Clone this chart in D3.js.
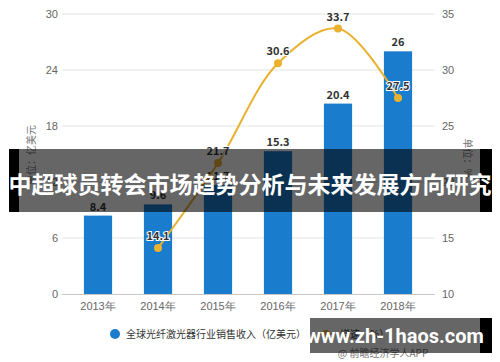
<!DOCTYPE html>
<html>
<head>
<meta charset="utf-8">
<script src="https://cdn.jsdelivr.net/npm/d3@7"></script>
<style>
  body { margin: 0; background: #fff; }
  svg { display: block; font-family: "Noto Sans CJK SC", "Noto Sans", sans-serif; }
</style>
</head>
<body>
<svg width="500" height="362"></svg>
<script>
const years = ["2013年", "2014年", "2015年", "2016年", "2017年", "2018年"];
const revenue = [8.4, 9.6, 11.7, 15.3, 20.4, 26];
const growthYears = ["2014年", "2015年", "2016年", "2017年", "2018年"];
const growth = [14.1, 21.7, 30.6, 33.7, 27.5];
const leftTicks = [0, 6, 12, 18, 24, 30];
const rightTicks = [10, 15, 20, 25, 30, 35];

const svg = d3.select("svg");
const barColor = "#1a7ccc";
const lineColor = "#eab12f";

const x = d3.scaleBand().domain(years).range([68, 428]).paddingInner(0.53).paddingOuter(0.265);
const yL = d3.scaleLinear().domain([0, 30]).range([294, 14]);
const yR = d3.scaleLinear().domain([10, 35]).range([294, 14]);

// gridlines
svg.append("g")
  .selectAll("line")
  .data(leftTicks.slice(1))
  .join("line")
  .attr("x1", 62).attr("x2", 435)
  .attr("y1", d => yL(d)).attr("y2", d => yL(d))
  .attr("stroke", "#e3e3e3");

// x axis
const xAxis = svg.append("g")
  .attr("transform", `translate(0,${yL(0)})`)
  .call(d3.axisBottom(x).tickSize(0).tickPadding(8));
xAxis.select(".domain").attr("stroke", "#c8c8c8").attr("d", "M62,0.5H435");
xAxis.selectAll("text").attr("fill", "#666").attr("font-size", 11);

// left axis
const left = svg.append("g")
  .attr("transform", "translate(58,0)")
  .call(d3.axisLeft(yL).tickValues(leftTicks).tickSize(0).tickPadding(0));
left.select(".domain").remove();
left.selectAll("text").attr("fill", "#666").attr("font-size", 11);

// right axis
const right = svg.append("g")
  .attr("transform", "translate(442,0)")
  .call(d3.axisRight(yR).tickValues(rightTicks).tickSize(0).tickPadding(0));
right.select(".domain").remove();
right.selectAll("text").attr("fill", "#666").attr("font-size", 11);

// axis titles
svg.append("text")
  .attr("transform", "translate(35,155) rotate(-90)")
  .attr("text-anchor", "middle")
  .attr("fill", "#777").attr("font-size", 10)
  .text("单位：亿美元");
svg.append("text")
  .attr("transform", "translate(464,158) rotate(90)")
  .attr("text-anchor", "middle")
  .attr("fill", "#777").attr("font-size", 10)
  .text("单位：%");

// bars
svg.append("g")
  .selectAll("rect")
  .data(revenue)
  .join("rect")
  .attr("x", (d, i) => x(years[i]))
  .attr("y", d => yL(d))
  .attr("width", x.bandwidth())
  .attr("height", d => yL(0) - yL(d))
  .attr("fill", barColor);

svg.append("g")
  .selectAll("text")
  .data(revenue)
  .join("text")
  .attr("x", (d, i) => x(years[i]) + x.bandwidth() / 2)
  .attr("y", d => yL(d) - 5)
  .attr("text-anchor", "middle")
  .attr("font-size", 11).attr("font-weight", "bold")
  .attr("fill", "#333")
  .attr("stroke", "#fff").attr("stroke-width", 2).attr("paint-order", "stroke")
  .text(d => d);

// growth line
const cx = (i) => x(growthYears[i]) + x.bandwidth() / 2;
const line = d3.line()
  .x((d, i) => cx(i))
  .y(d => yR(d))
  .curve(d3.curveCatmullRom.alpha(0.5));

svg.append("path")
  .datum(growth)
  .attr("d", line)
  .attr("fill", "none")
  .attr("stroke", lineColor)
  .attr("stroke-width", 2);

svg.append("g")
  .selectAll("circle")
  .data(growth)
  .join("circle")
  .attr("cx", (d, i) => cx(i))
  .attr("cy", d => yR(d))
  .attr("r", 4)
  .attr("fill", lineColor);

svg.append("g")
  .selectAll("text")
  .data(growth)
  .join("text")
  .attr("x", (d, i) => cx(i))
  .attr("y", d => yR(d) - 8)
  .attr("text-anchor", "middle")
  .attr("font-size", 11).attr("font-weight", "bold")
  .attr("fill", "#333")
  .attr("stroke", "#fff").attr("stroke-width", 2).attr("paint-order", "stroke")
  .text(d => d);

// legend
const legend = svg.append("g");
legend.append("circle").attr("cx", 115).attr("cy", 334).attr("r", 5).attr("fill", barColor);
legend.append("text").attr("x", 126).attr("y", 338)
  .attr("font-size", 10).attr("fill", "#333")
  .text("全球光纤激光器行业销售收入（亿美元）");
legend.append("line").attr("x1", 318).attr("x2", 334).attr("y1", 334).attr("y2", 334)
  .attr("stroke", lineColor).attr("stroke-width", 2);
legend.append("circle").attr("cx", 326).attr("cy", 334).attr("r", 4).attr("fill", lineColor);
legend.append("text").attr("x", 340).attr("y", 338)
  .attr("font-size", 10).attr("fill", "#333")
  .text("增速（%）");

svg.append("text")
  .attr("x", 383).attr("y", 357)
  .attr("text-anchor", "middle")
  .attr("font-size", 10).attr("fill", "#777")
  .text("@ 前瞻经济学人APP");

// title overlay banner
const banner = svg.append("g");
banner.append("rect").attr("x", 9).attr("y", 149).attr("width", 483).attr("height", 63)
  .attr("fill", "rgba(0,0,0,0.6)");
banner.append("rect").attr("x", 9).attr("y", 149).attr("width", 10).attr("height", 63).attr("fill", "#000");
banner.append("rect").attr("x", 480).attr("y", 149).attr("width", 12).attr("height", 63).attr("fill", "#000");
banner.append("text")
  .attr("x", 250).attr("y", 193)
  .attr("text-anchor", "middle")
  .attr("font-size", 23).attr("font-weight", "bold")
  .attr("fill", "#fff")
  .text("中超球员转会市场趋势分析与未来发展方向研究");

// url overlay
const url = svg.append("g");
url.append("rect").attr("x", 310).attr("y", 318).attr("width", 182).attr("height", 35)
  .attr("fill", "rgba(0,0,0,0.6)");
url.append("rect").attr("x", 480).attr("y", 318).attr("width", 12).attr("height", 35).attr("fill", "#000");
url.append("text")
  .attr("x", 395).attr("y", 343)
  .attr("text-anchor", "middle")
  .attr("font-size", 20).attr("font-weight", "bold")
  .attr("fill", "#fff")
  .attr("font-family", "Roboto, 'Noto Sans', sans-serif")
  .text("www.zh-1haos.com");
</script>
</body>
</html>
